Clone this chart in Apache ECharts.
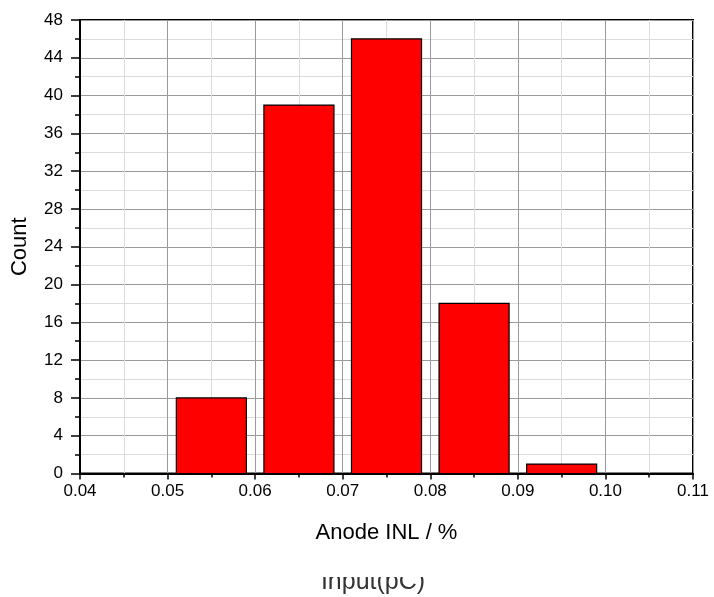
<!DOCTYPE html>
<html><head><meta charset="utf-8">
<script src="https://cdn.jsdelivr.net/npm/echarts@6/dist/echarts.min.js"></script>
<style>html,body{margin:0;padding:0;background:#fff}#c{width:714px;height:597px}</style>
</head><body><div id="c"></div>
<script>
const binStarts = [0.05, 0.06, 0.07, 0.08, 0.09];
const binWidth = 0.01;
const counts = [8, 39, 46, 18, 1];
const xTitle = 'Anode INL / %';
const yTitle = 'Count';
const footer = 'Input(pC)';

const data = binStarts.map((s, i) => [s, s + binWidth, counts[i]]);
const chart = echarts.init(document.getElementById('c'));
const font = 'Liberation Sans, Arial, sans-serif';
chart.setOption({
  animation: false,
  grid: {left: 80, right: 21, top: 20, bottom: 123.5, show: true, borderColor: '#000', borderWidth: 2, backgroundColor: 'transparent'},
  xAxis: {
    type: 'value', min: 0.04, max: 0.11, interval: 0.01,
    name: xTitle, nameLocation: 'middle', nameGap: 48,
    nameTextStyle: {fontFamily: font, fontSize: 22, color: '#000'},
    axisLine: {show: true, onZero: false, lineStyle: {color: '#000', width: 2}},
    axisTick: {show: true, length: 6, lineStyle: {color: '#000', width: 1.5}},
    minorTick: {show: true, splitNumber: 2, length: 4, lineStyle: {color: '#000', width: 1.5}},
    splitLine: {show: true, lineStyle: {color: '#9a9a9a', width: 1}},
    minorSplitLine: {show: true, lineStyle: {color: '#dcdcdc', width: 1}},
    axisLabel: {fontFamily: font, fontSize: 17, color: '#000', margin: 9, formatter: v => v.toFixed(2)}
  },
  yAxis: {
    type: 'value', min: 0, max: 48, interval: 4,
    name: yTitle, nameLocation: 'middle', nameGap: 49, nameRotate: 90,
    nameTextStyle: {fontFamily: font, fontSize: 22, color: '#000'},
    axisLine: {show: true, lineStyle: {color: '#000', width: 2}},
    axisTick: {show: true, length: 9, lineStyle: {color: '#000', width: 1.5}},
    minorTick: {show: true, splitNumber: 2, length: 5, lineStyle: {color: '#000', width: 1.5}},
    splitLine: {show: true, lineStyle: {color: '#9a9a9a', width: 1}},
    minorSplitLine: {show: true, lineStyle: {color: '#dcdcdc', width: 1}},
    axisLabel: {fontFamily: font, fontSize: 17, color: '#000', margin: 17}
  },
  series: [{
    type: 'custom',
    data: data,
    encode: {x: [0, 1], y: 2},
    renderItem: function (params, api) {
      const s = api.value(0), e = api.value(1), c = api.value(2);
      const pad = (e - s) * 0.1;
      const p0 = api.coord([s + pad, c]);
      const p1 = api.coord([e - pad, 0]);
      return {
        type: 'rect',
        shape: {x: p0[0], y: p0[1], width: p1[0] - p0[0], height: p1[1] - p0[1]},
        style: {fill: '#ff0000', stroke: '#000', lineWidth: 1.2}
      };
    }
  }],
  graphic: [
    {type: 'text', z: 10, style: {text: footer, x: 373, y: 595, textAlign: 'center', textVerticalAlign: 'bottom', fontFamily: font, fontSize: 25, fill: '#333'}},
    {type: 'rect', z: 20, shape: {x: 290, y: 555, width: 180, height: 22}, style: {fill: '#fff'}}
  ]
});
</script></body></html>
